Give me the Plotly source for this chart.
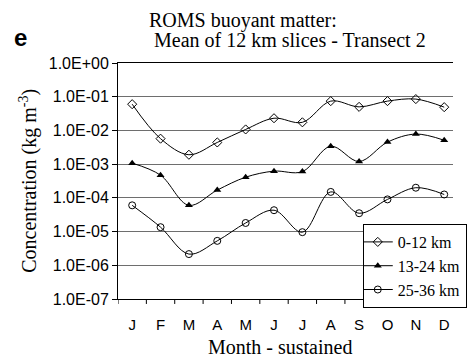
import plotly.graph_objects as go

# Monthly mean concentrations of buoyant matter (kg m^-3), by depth slice
months = ["J", "F", "M", "A", "M", "J", "J", "A", "S", "O", "N", "D"]
slice_0_12 = [0.060, 0.0057, 0.0019, 0.0044, 0.0107, 0.023, 0.0174, 0.074, 0.050, 0.074, 0.085, 0.049]
slice_13_24 = [0.00107, 0.00047, 6.0e-5, 1.7e-4, 4.1e-4, 6.2e-4, 6.0e-4, 0.0034, 0.0012, 0.0045, 0.0078, 0.0051]
slice_25_36 = [6.0e-5, 1.35e-5, 2.15e-6, 5.3e-6, 1.8e-5, 4.3e-5, 9.6e-6, 1.5e-4, 3.5e-5, 9.0e-5, 2.0e-4, 1.26e-4]

y_tick_vals = [1e-7, 1e-6, 1e-5, 1e-4, 1e-3, 1e-2, 1e-1, 1e0]
y_tick_text = ["1.0E-07", "1.0E-06", "1.0E-05", "1.0E-04", "1.0E-03", "1.0E-02", "1.0E-01", "1.0E+00"]

series = [
    ("0-12 km", slice_0_12, dict(symbol="diamond-open", size=7, color="black", line=dict(width=1, color="black"))),
    ("13-24 km", slice_13_24, dict(symbol="triangle-up", size=7, color="black", line=dict(width=0))),
    ("25-36 km", slice_25_36, dict(symbol="circle-open", size=7, color="black", line=dict(width=1, color="black"))),
]

x_idx = list(range(len(months)))

fig = go.Figure()
for name, vals, marker in series:
    fig.add_trace(go.Scatter(
        x=x_idx, y=vals, name=name, mode="lines+markers",
        line=dict(color="black", width=1, shape="spline", smoothing=1.0),
        marker=marker,
    ))

serif = "Liberation Serif, Times New Roman, serif"
sans = "Liberation Sans, Arial, sans-serif"

fig.update_layout(
    width=467, height=360,
    margin=dict(l=118, r=0, t=63, b=61),
    paper_bgcolor="white", plot_bgcolor="white",
    font=dict(family=serif, color="black"),
    showlegend=True,
    legend=dict(
        x=(373 - 118) / 349, xanchor="left", y=(299 - 224) / 236, yanchor="top",
        bgcolor="white", bordercolor="black", borderwidth=1,
        font=dict(family=serif, size=16, color="black"),
        tracegroupgap=0, itemwidth=30, indentation=-6,
    ),
    xaxis=dict(
        range=[-0.5, 11.31],
        tickmode="array", tickvals=x_idx, ticktext=months,
        showgrid=False, zeroline=False,
        showline=True, linecolor="black", linewidth=1, mirror=True,
        ticks="", tickfont=dict(family=sans, size=15, color="black"),
        ticklabelstandoff=12,
    ),
    yaxis=dict(
        type="log", range=[-7, 0],
        tickmode="array", tickvals=y_tick_vals, ticktext=y_tick_text,
        showgrid=True, gridcolor="#6e6e6e", gridwidth=1,
        showline=True, linecolor="black", linewidth=1,
        ticks="outside", ticklen=5, tickcolor="black",
        tickfont=dict(family=sans, size=16, color="black"),
        zeroline=False,
    ),
)

# Month boundary tick marks below the x axis
for b in range(12):
    fig.add_shape(type="line", xref="x", yref="paper", x0=b - 0.5, x1=b - 0.5,
                  y0=0, y1=-0.021, line=dict(color="black", width=1))

annotations = [
    dict(text="ROMS buoyant matter:", x=248, y=20, font=dict(family=serif, size=20)),
    dict(text="Mean of 12 km slices - Transect 2", x=297, y=40, font=dict(family=serif, size=20)),
    dict(text="<b>e</b>", x=16, y=37, font=dict(family=sans, size=24)),
    dict(text="Month - sustained", x=287, y=347, font=dict(family=serif, size=20)),
]
for a in annotations:
    fig.add_annotation(
        text=a["text"], xref="paper", yref="paper",
        x=(a["x"] - 118) / 349, y=(299 - a["y"]) / 236,
        xanchor="center", yanchor="middle", showarrow=False,
        font=dict(color="black", **a["font"]),
    )

fig.add_annotation(
    text="Concentration (kg m<sup>-3</sup>)", xref="paper", yref="paper",
    x=(24 - 118) / 349, y=(299 - 181) / 236, textangle=-90,
    xanchor="center", yanchor="middle", showarrow=False,
    font=dict(family=serif, size=20, color="black"),
)

fig.write_html("out.html")
